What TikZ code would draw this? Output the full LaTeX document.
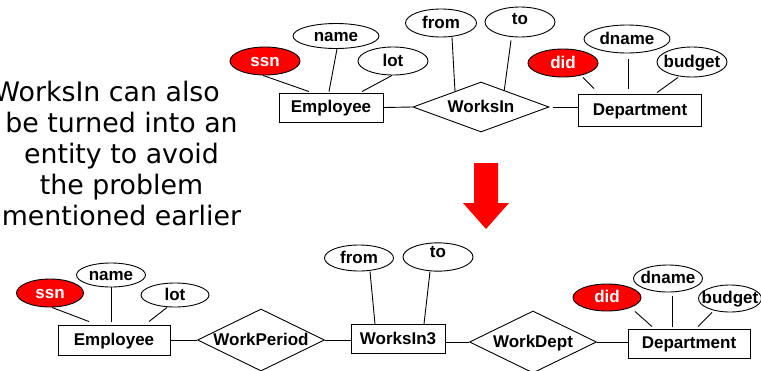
\documentclass[tikz,border=0pt]{standalone}
\usepackage{fontspec}
\setmainfont{Liberation Sans}
\newfontfamily\parafont{DejaVu Sans}
\usetikzlibrary{shapes.geometric,calc}
\newcommand\zt[1]{\makebox[0pt]{#1}}
\tikzset{
  lbl/.style={font=\fontsize{17}{20}\selectfont\bfseries, text height=10pt, text depth=0pt, inner sep=0pt},
  attr/.style 2 args={lbl, ellipse, draw, line width=0.9pt, minimum width=#1pt, minimum height=#2pt},
  keyattr/.style 2 args={attr={#1}{#2}, fill=red, text=white},
  entity/.style 2 args={lbl, rectangle, draw, line width=0.9pt, minimum width=#1pt, minimum height=#2pt},
  rel/.style 2 args={lbl, diamond, draw, line width=0.9pt, minimum width=#1pt, minimum height=#2pt},
  conn/.style={line width=0.9pt},
  para/.style={font=\parafont\fontsize{26.8}{31}\selectfont, inner sep=0pt}
}
\begin{document}
\begin{tikzpicture}[x=1pt,y=-1pt]
\useasboundingbox (0,0) rectangle (761,370);
% ---------- top diagram ----------
\node[keyattr={70}{28}] (ssn) at (265,61) {\zt{ssn}};
\node[attr={86}{25}] (name) at (336,36) {\zt{name}};
\node[attr={70}{28}] (lot) at (393,61) {\zt{lot}};
\node[entity={104}{29}] (emp) at (331,107.5) {\zt{Employee}};
\node[rel={136}{50}] (wi) at (481,107) {\zt{WorksIn}};
\node[attr={71}{28}] (from) at (441,23) {\zt{from}};
\node[attr={70}{30}, text depth=5pt] (to) at (520,22) {\zt{to}};
\node[entity={123}{32}] (dept) at (640,110) {\zt{Department}};
\node[keyattr={70}{28}] (did) at (563,63) {\zt{did}};
\node[attr={86}{28}] (dname) at (627,39) {\zt{dname}};
\node[attr={70}{30}] (budget) at (692,62) {\zt{budget}};

\draw[conn] ([xshift=-2pt]ssn.south) -- ([xshift=-22pt,yshift=1pt]emp.north);
\draw[conn] ([xshift=1pt]name.south) -- ([xshift=-2pt,yshift=1pt]emp.north);
\draw[conn] ([xshift=-1pt]lot.south) -- ([xshift=31pt,yshift=1pt]emp.north);
\draw[conn] (emp.east) -- (wi.west);
\draw[conn] ([xshift=11pt]from.south) -- ($(wi.west)!0.62!(wi.north)$);
\draw[conn] ([xshift=-9pt,yshift=-3pt]to.south) -- ($(wi.north)!0.34!(wi.east)$);
\draw[conn] ([xshift=4pt]wi.east) -- (wi.east -| dept.west);
\draw[conn] ([xshift=20pt]did.south) -- ([xshift=-46pt,yshift=5pt]dept.north);
\draw[conn] ([xshift=1pt,yshift=-6pt]dname.south) -- ([xshift=-12pt,yshift=5pt]dept.north);
\draw[conn] ([xshift=-14pt]budget.south) -- ([xshift=17pt,yshift=1pt]dept.north);

% ---------- text ----------
\node[para, anchor=base east] (t1) at (220,101) {WorksIn can also};
\node[para, anchor=base] (t2) at (121.5,132) {be turned into an};
\node[para, anchor=base] (t3) at (121.5,163) {entity to avoid};
\node[para, anchor=base] (t4) at (121.5,194) {the problem};
\node[para, anchor=base] (t5) at (121.5,225.5) {mentioned earlier};

% ---------- arrow ----------
\fill[red] (474,163) -- (498,163) -- (498,203) -- (509,203) -- (486,229) -- (463,203) -- (474,203) -- cycle;

% ---------- bottom diagram ----------
\node[keyattr={67}{28}] (ssn2) at (50,293) {\zt{ssn}};
\node[attr={69}{24}] (name2) at (111,275) {\zt{name}};
\node[attr={68}{24}] (lot2) at (175,295) {\zt{lot}};
\node[entity={112}{30}] (emp2) at (114,340) {\zt{Employee}};
\node[rel={127}{62}] (wp) at (261,340) {\zt{WorkPeriod}};
\node[entity={94}{29}] (w3) at (398,339) {\zt{WorksIn3}};
\node[attr={69}{26}] (from2) at (359,258) {\zt{from}};
\node[attr={70}{28}, text depth=10pt] (to2) at (438,257) {\zt{to}};
\node[rel={127}{62}] (wd) at (533,342) {\zt{WorkDept}};
\node[entity={122}{29}] (dept2) at (689,343.5) {\zt{Department}};
\node[keyattr={68}{27}] (did2) at (607,297.5) {\zt{did}};
\node[attr={69}{27}] (dname2) at (668,278.5) {\zt{dname}};
\node[attr={63}{27}] (budget2) at (730,298.5) {\zt{budget}};

\draw[conn] ([xshift=2pt]ssn2.south) -- ([xshift=-25pt,yshift=3pt]emp2.north);
\draw[conn] (name2.south) -- ([xshift=-3pt,yshift=3pt]emp2.north);
\draw[conn] ([xshift=-8pt]lot2.south) -- ([xshift=35pt,yshift=3pt]emp2.north);
\draw[conn] (emp2.east) -- (wp.west);
\draw[conn] (wp.east) -- (wp.east -| w3.west);
\draw[conn] ([xshift=11pt]from2.south) -- ([xshift=-23pt]w3.north);
\draw[conn] ([xshift=-8pt]to2.south) -- ([xshift=26pt]w3.north);
\draw[conn] (w3.east |- wd.west) -- (wd.west);
\draw[conn] (wd.east) -- (wd.east -| dept2.west);
\draw[conn] ([xshift=28pt]did2.south) -- ([xshift=-37pt,yshift=2pt]dept2.north);
\draw[conn] ([xshift=4pt,yshift=-4pt]dname2.south) -- ([xshift=-17pt,yshift=2pt]dept2.north);
\draw[conn] ([xshift=-18pt]budget2.south) -- ([xshift=9pt,yshift=2pt]dept2.north);
\end{tikzpicture}
\end{document}
